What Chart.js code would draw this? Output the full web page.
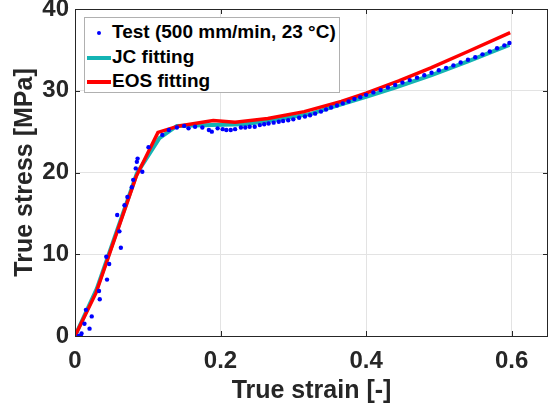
<!DOCTYPE html>
<html>
<head>
<meta charset="utf-8">
<script src="https://cdn.jsdelivr.net/npm/chart.js@4.4.1/dist/chart.umd.min.js"></script>
<style>
  body { margin: 0; background: #fff; }
  #wrap { position: relative; width: 552px; height: 408px; }
  #legend {
    position: absolute; left: 84px; top: 17px; width: 254px; height: 74px;
    border: 1px solid #b0b0b0; background: #fff;
    font: bold 19px "Liberation Sans", Arial, sans-serif; color: #000;
  }
  .row { position: absolute; left: 0; height: 24px; line-height: 24px; white-space: nowrap; }
  .key { position: absolute; left: 2px; top: 11px; width: 24px; height: 4px; }
  .dot { position: absolute; left: 12px; top: 11px; width: 4px; height: 4px; border-radius: 50%; }
  .txt { position: absolute; left: 27px; top: 0; }
</style>
</head>
<body>
<div id="wrap">
  <canvas id="chart" width="552" height="408"></canvas>
  <div id="legend"></div>
</div>
<script>
// Test data (true strain, true stress in MPa)
var testStrain = [0.005, 0.008, 0.009, 0.013, 0.015, 0.020, 0.023, 0.033, 0.034, 0.043, 0.044, 0.047,
  0.058, 0.061, 0.063, 0.068, 0.072, 0.078, 0.080, 0.0835, 0.085, 0.086, 0.0925, 0.101, 0.120, 0.129,
  0.140, 0.150, 0.156, 0.165, 0.175, 0.184, 0.188, 0.196, 0.203, 0.208, 0.214, 0.220, 0.228, 0.234,
  0.240, 0.247, 0.254, 0.260, 0.266, 0.273, 0.280, 0.286, 0.293, 0.300, 0.308, 0.316, 0.323, 0.330,
  0.338, 0.345, 0.352, 0.360, 0.368, 0.376, 0.384, 0.392, 0.400, 0.410, 0.420, 0.430, 0.440, 0.450,
  0.460, 0.470, 0.480, 0.490, 0.500, 0.510, 0.520, 0.530, 0.540, 0.550, 0.560, 0.570, 0.580, 0.590, 0.597];
var testStress = [0.0, 0.0, 0.3, 1.5, 3.2, 0.9, 2.4, 5.5, 4.5, 9.7, 6.9, 8.8,
  14.8, 12.8, 10.8, 16.0, 17.0, 18.2, 19.1, 20.5, 21.3, 21.7, 20.1, 23.1, 24.6, 25.2,
  25.5, 25.7, 25.4, 25.6, 25.5, 25.2, 25.0, 25.4, 25.3, 25.2, 25.2, 25.3, 25.5, 25.5,
  25.6, 25.6, 25.8, 25.9, 26.0, 26.1, 26.2, 26.3, 26.4, 26.5, 26.7, 26.85, 27.0, 27.2,
  27.45, 27.7, 27.95, 28.2, 28.45, 28.7, 29.0, 29.2, 29.5, 29.8, 30.1, 30.4, 30.7, 31.0,
  31.3, 31.6, 31.9, 32.2, 32.5, 32.8, 33.1, 33.45, 33.8, 34.1, 34.45, 34.8, 35.2, 35.55, 35.85];

// JC fitting
var jcStrain = [0, 0.030, 0.085, 0.116, 0.140, 0.188, 0.234, 0.280, 0.325, 0.350, 0.400, 0.440, 0.490, 0.540, 0.597];
var jcStress = [0, 5.8, 19.9, 24.2, 25.7, 25.8, 25.9, 26.5, 27.2, 27.9, 29.25, 30.4, 31.9, 33.6, 35.6];

// EOS fitting
var eosStrain = [0, 0.029, 0.084, 0.114, 0.143, 0.190, 0.220, 0.265, 0.315, 0.366, 0.400, 0.445, 0.489, 0.540, 0.598];
var eosStress = [0, 5.3, 19.5, 24.9, 25.7, 26.35, 26.15, 26.6, 27.45, 28.7, 29.7, 31.2, 32.8, 34.8, 37.1];

var xTicks = [0, 0.2, 0.4, 0.6];
var yTicks = [0, 10, 20, 30, 40];

var labels = ['Test (500 mm/min, 23 °C)', 'JC fitting', 'EOS fitting'];
var colors = ['#0000ff', '#14b4b4', '#ff0000'];

function pairs(xs, ys) {
  return xs.map(function (x, i) { return { x: x, y: ys[i] }; });
}

var axisColor = '#262626';
var fontFam = '"Liberation Sans", Arial, sans-serif';

// box round the plot with inward ticks on all four sides
var boxPlugin = {
  id: 'box',
  afterDatasetsDraw: function (chart) {
    var a = chart.chartArea, c = chart.ctx;
    var xs = chart.scales.x, ys = chart.scales.y;
    c.save();
    c.strokeStyle = axisColor;
    c.lineWidth = 1;
    c.strokeRect(Math.round(a.left) + 0.5, Math.round(a.top) + 0.5,
      Math.round(a.right - a.left) - 1, Math.round(a.bottom - a.top));
    c.beginPath();
    xTicks.forEach(function (v) {
      var px = Math.round(xs.getPixelForValue(v)) + 0.5;
      c.moveTo(px, a.bottom); c.lineTo(px, a.bottom - 5);
      c.moveTo(px, a.top); c.lineTo(px, a.top + 5);
    });
    yTicks.forEach(function (v) {
      var py = Math.round(ys.getPixelForValue(v)) + 0.5;
      c.moveTo(a.left, py); c.lineTo(a.left + 5, py);
      c.moveTo(a.right, py); c.lineTo(a.right - 5, py);
    });
    c.stroke();
    c.restore();
  }
};

var ctx = document.getElementById('chart').getContext('2d');
var chart = new Chart(ctx, {
  type: 'scatter',
  data: {
    datasets: [{
      label: labels[0],
      data: pairs(testStrain, testStress),
      showLine: false,
      pointRadius: 2.2,
      pointBackgroundColor: colors[0],
      pointBorderWidth: 0,
      order: 0
    }, {
      label: labels[1],
      data: pairs(jcStrain, jcStress),
      showLine: true,
      borderColor: colors[1],
      borderWidth: 4,
      pointRadius: 0,
      tension: 0,
      order: 2
    }, {
      label: labels[2],
      data: pairs(eosStrain, eosStress),
      showLine: true,
      borderColor: colors[2],
      borderWidth: 3.5,
      pointRadius: 0,
      tension: 0,
      order: 1
    }]
  },
  options: {
    responsive: false,
    animation: false,
    layout: { padding: { left: 0, right: 1, top: 9, bottom: 0 } },
    plugins: { legend: { display: false }, tooltip: { enabled: false } },
    scales: {
      x: {
        type: 'linear', min: 0, max: 0.65,
        afterBuildTicks: function (s) { s.ticks = xTicks.map(function (v) { return { value: v }; }); },
        afterFit: function (s) { s.height = 72; s.paddingLeft = 0; s.paddingRight = 0; },
        grid: { color: '#e3e3e3', drawTicks: false },
        border: { display: false },
        ticks: {
          padding: 11, color: axisColor,
          font: { family: fontFam, size: 24, weight: 'bold' },
          callback: function (v) { return String(v); }
        },
        title: {
          display: true, text: 'True strain [-]', color: axisColor,
          font: { family: fontFam, size: 25, weight: 'bold' },
          padding: { top: 0, bottom: 2 }
        }
      },
      y: {
        type: 'linear', min: 0, max: 40,
        afterBuildTicks: function (s) { s.ticks = yTicks.map(function (v) { return { value: v }; }); },
        afterFit: function (s) { s.width = 75; s.paddingTop = 0; s.paddingBottom = 0; },
        grid: { color: '#e3e3e3', drawTicks: false },
        border: { display: false },
        ticks: {
          padding: 6, color: axisColor,
          font: { family: fontFam, size: 24, weight: 'bold' }
        },
        title: {
          display: true, text: 'True stress [MPa]', color: axisColor,
          font: { family: fontFam, size: 25, weight: 'bold' },
          padding: { top: 10, bottom: 0 }
        }
      }
    }
  },
  plugins: [boxPlugin]
});

// legend in the top-left corner of the plot
var leg = document.getElementById('legend');
chart.data.datasets.forEach(function (ds, i) {
  var row = document.createElement('div');
  row.className = 'row';
  row.style.top = (2 + i * 24.5) + 'px';
  var key = document.createElement('div');
  key.className = i === 0 ? 'dot' : 'key';
  key.style.background = colors[i];
  var t = document.createElement('span');
  t.className = 'txt';
  t.textContent = ds.label;
  row.appendChild(key);
  row.appendChild(t);
  leg.appendChild(row);
});
</script>
</body>
</html>
